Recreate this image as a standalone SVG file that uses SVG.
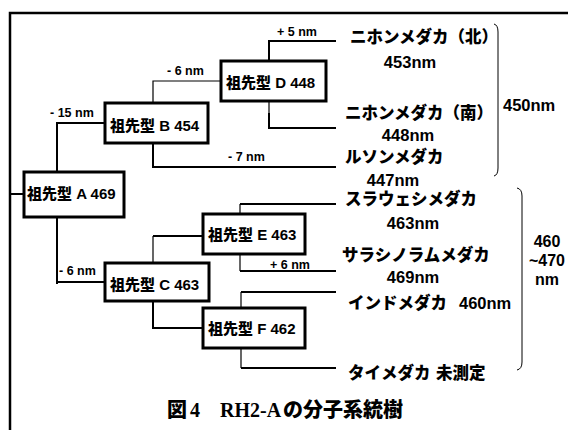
<svg xmlns="http://www.w3.org/2000/svg" width="568" height="430" viewBox="0 0 568 430">
<style>
text{font-family:"Liberation Sans","Noto Sans CJK JP",sans-serif;font-weight:900;fill:#000}
.node rect{fill:#fff;stroke:#000;stroke-width:3}
.nt{font-size:15px}
.lb{font-size:12.5px}
.lf{font-size:16.5px}
.rg{font-size:16px}
.thick{stroke:#000;stroke-width:2;fill:none}
.thin{stroke:#000;stroke-width:1.2;fill:none}
.br{stroke:#000;stroke-width:1;fill:none}
.cap{font-size:20px}
.serif{font-family:"Liberation Serif","Noto Serif CJK JP",serif;font-weight:bold}
</style>
<rect width="568" height="430" fill="#fff"/>
<path d="M10 440 V13 H580" stroke="#000" stroke-width="2.5" fill="none"/>
<g id="connectors">
<path class="thick" d="M10 194 H24"/>
<path class="thick" d="M57 172 V123 H105"/>
<path class="thick" d="M57 217 V284 M57 282 H105"/>
<path class="thin" d="M153 103 V81 H221"/>
<path class="thick" d="M153 143 V167 H336"/>
<path class="thick" d="M269 61 V41 H336"/>
<path class="thin" d="M269 101 V113"/><path class="thick" d="M269 113 V128 H336"/>
<path class="thin" d="M153 263 V236"/><path class="thick" d="M153 236 H203"/>
<path class="thick" d="M153 301 V328 H203"/>
<path class="thin" d="M240 214 V204"/><path class="thick" d="M240 204 H336"/>
<path class="thin" d="M240 254 V271"/><path class="thick" d="M240 271 H336"/>
<path class="thin" d="M241 308 V292"/><path class="thick" d="M241 292 H336"/>
<path class="thin" d="M241 348 V368"/><path class="thick" d="M241 368 H336"/>
</g>
<g id="labels">
<text class="lb" x="277" y="36">+ 5 nm</text>
<text class="lb" x="167" y="75">- 6 nm</text>
<text class="lb" x="50" y="117">- 15 nm</text>
<text class="lb" x="228" y="161">- 7 nm</text>
<text class="lb" x="59" y="275">- 6 nm</text>
<text class="lb" x="270" y="269">+ 6 nm</text>
</g>
<g id="nodeA" class="node"><rect x="24" y="172" width="100" height="45"/><text class="nt" x="27" y="199">祖先型 A 469</text></g>
<g id="nodeB" class="node"><rect x="105" y="103" width="103" height="40"/><text class="nt" x="110" y="131">祖先型 B 454</text></g>
<g id="nodeD" class="node"><rect x="221" y="61" width="105" height="40"/><text class="nt" x="226" y="88">祖先型 D 448</text></g>
<g id="nodeC" class="node"><rect x="105" y="263" width="104" height="38"/><text class="nt" x="110" y="290">祖先型 C 463</text></g>
<g id="nodeE" class="node"><rect x="203" y="214" width="102" height="40"/><text class="nt" x="208" y="240">祖先型 E 463</text></g>
<g id="nodeF" class="node"><rect x="203" y="308" width="102" height="40"/><text class="nt" x="208" y="334">祖先型 F 462</text></g>
<g id="leaves">
<text class="lf" x="350" y="43">ニホンメダカ（北）</text>
<text class="lf" x="410" y="68" text-anchor="middle">453nm</text>
<text class="lf" x="345" y="119">ニホンメダカ（南）</text>
<text class="lf" x="408" y="141" text-anchor="middle">448nm</text>
<text class="lf" x="345" y="163">ルソンメダカ</text>
<text class="lf" x="393" y="186" text-anchor="middle">447nm</text>
<text class="lf" x="345" y="205">スラウェシメダカ</text>
<text class="lf" x="413" y="229" text-anchor="middle">463nm</text>
<text class="lf" x="342" y="261">サラシノラムメダカ</text>
<text class="lf" x="413" y="283" text-anchor="middle">469nm</text>
<text class="lf" x="348" y="309">インドメダカ<tspan x="459">460nm</tspan></text>
<text class="lf" x="348" y="379">タイメダカ<tspan x="436">未測定</tspan></text>
</g>
<g id="groups">
<path class="br" d="M494 24 Q498 25 498 32 V168 Q498 175 494 176"/>
<text class="lf" x="503" y="111">450nm</text>
<path class="br" d="M517 188 Q522 189 522 196 V362 Q522 369 517 370"/>
<text class="rg" x="547" y="247" text-anchor="middle">460</text>
<text class="rg" x="547" y="266" text-anchor="middle">~470</text>
<text class="rg" x="547" y="285" text-anchor="middle">nm</text>
</g>
<text id="caption" class="cap" y="417"><tspan x="167">図</tspan><tspan class="serif" x="190">4</tspan><tspan class="serif" x="220">RH2-A</tspan><tspan x="283">の分子系統樹</tspan></text>
</svg>
